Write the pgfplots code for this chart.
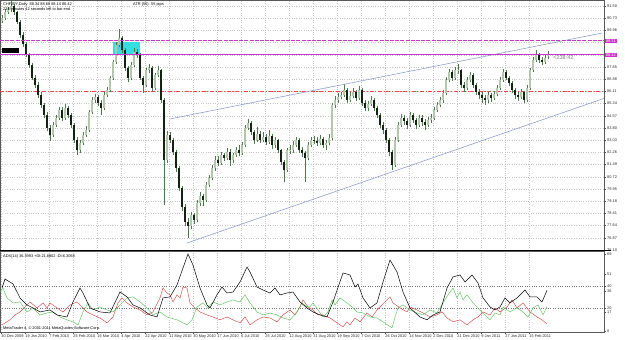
\documentclass[border=0pt]{standalone}
\usepackage{pgfplots}
\pgfplotsset{compat=1.18}
\usepackage{pgfplotstable}
\usepackage{fontspec}
\setmainfont{Liberation Sans}
\definecolor{wick}{HTML}{4F7A4F}
\definecolor{bull}{HTML}{B4C6AE}
\definecolor{bear}{HTML}{142214}
\definecolor{trend}{HTML}{8A98C8}
\definecolor{mag}{HTML}{CC33CC}
\definecolor{gridc}{HTML}{C4C4C4}
\definecolor{cyanbox}{HTML}{33DDE0}
\definecolor{levelred}{HTML}{F04848}
\definecolor{digreen}{HTML}{5CBF5C}
\definecolor{dired}{HTML}{CC4444}
\newcommand{\tf}{\fontsize{3.9}{4.5}\selectfont}

\pgfplotstableread{
o h l c
90.55 90.95 90.40 90.74
90.74 91.30 90.62 91.12
91.12 91.45 91.00 91.24
91.24 91.80 91.10 91.50
91.50 91.65 90.95 91.12
91.12 91.20 90.35 90.49
90.49 90.60 89.50 89.67
89.67 89.85 88.90 89.10
89.10 89.20 88.25 88.40
88.40 88.55 87.60 87.77
87.77 87.90 86.80 86.95
86.95 87.15 86.35 86.51
86.51 86.70 85.70 85.88
85.88 86.05 85.05 85.25
85.25 85.40 84.40 84.62
84.62 84.80 83.60 83.80
83.80 84.00 82.95 83.36
83.36 84.20 83.20 83.99
83.99 84.60 83.85 84.43
84.43 85.15 84.30 84.93
84.93 85.10 84.25 84.43
84.43 85.30 84.30 85.06
85.06 85.20 84.45 84.62
84.62 84.75 83.80 83.99
83.99 84.10 82.85 83.04
83.04 83.20 82.10 82.41
82.41 83.05 82.25 82.85
82.85 83.55 82.70 83.36
83.36 83.90 83.20 83.67
83.67 84.95 83.55 84.81
84.81 85.75 84.70 85.57
85.57 85.95 85.40 85.75
85.75 85.90 85.20 85.38
85.38 85.55 84.60 85.06
85.06 86.05 84.95 85.88
85.88 86.40 85.75 86.20
86.20 87.10 86.10 86.95
86.95 88.10 86.85 87.96
87.96 89.20 87.85 89.04
89.04 90.05 88.90 89.48
89.48 89.60 88.55 88.72
88.72 88.85 87.40 87.58
87.58 87.70 86.70 86.95
86.95 87.95 86.85 87.77
87.77 88.85 87.65 88.59
88.59 88.80 88.20 88.40
88.40 88.50 86.80 86.95
86.95 87.10 86.00 86.51
86.51 87.60 86.40 87.46
87.46 87.85 87.30 87.58
87.58 87.70 86.15 86.32
86.32 87.30 86.20 87.14
87.14 87.70 87.00 87.46
87.46 87.55 85.40 85.57
85.57 85.70 78.95 81.78
81.78 83.60 81.60 83.36
83.36 83.55 82.85 83.04
83.04 83.15 82.10 82.28
82.28 82.40 81.05 81.27
81.27 81.40 79.80 80.01
80.01 80.15 78.55 78.81
78.81 79.00 77.60 77.87
77.87 78.10 76.85 77.62
77.62 78.50 77.40 78.31
78.31 78.45 77.75 77.99
77.99 79.25 77.85 79.07
79.07 79.75 78.90 79.51
79.51 79.65 78.85 79.26
79.26 80.40 79.10 80.20
80.20 80.85 80.05 80.64
80.64 81.45 80.50 81.27
81.27 82.00 81.10 81.78
81.78 82.05 81.40 81.59
81.59 82.30 81.45 82.09
82.09 82.25 81.70 81.90
81.90 82.55 81.75 82.28
82.28 82.45 81.40 81.78
81.78 82.25 81.60 82.09
82.09 82.60 81.95 82.41
82.41 82.70 82.05 82.22
82.22 82.90 82.10 82.72
82.72 84.00 82.60 83.80
83.80 84.35 83.65 84.11
84.11 84.25 83.35 83.55
83.55 83.70 82.80 83.04
83.04 83.85 82.90 83.42
83.42 83.60 82.85 83.04
83.04 83.55 82.90 83.23
83.23 83.45 82.70 82.91
82.91 83.70 82.80 83.29
83.29 83.40 82.45 82.72
82.72 83.20 82.55 83.04
83.04 83.10 82.20 82.41
82.41 82.50 81.45 81.65
81.65 81.80 80.40 81.15
81.15 82.55 81.00 82.41
82.35 82.70 82.15 82.41
82.41 82.95 82.25 82.72
82.72 83.25 82.60 83.04
83.04 83.15 82.20 82.41
82.41 82.60 81.95 82.22
82.22 82.35 80.40 81.90
81.90 82.90 81.75 82.72
82.72 83.25 82.60 83.04
83.04 83.30 82.80 82.98
82.98 83.20 82.65 82.85
82.85 83.35 82.70 83.10
83.10 83.25 82.55 82.72
82.72 83.05 82.40 82.85
82.85 83.40 82.70 83.17
83.17 85.40 83.05 85.25
85.25 85.80 85.05 85.57
85.57 86.00 85.40 85.75
85.75 86.10 85.60 85.88
85.88 86.55 85.75 86.20
86.20 86.30 85.40 85.57
85.57 86.05 85.45 85.82
85.82 86.30 85.70 86.07
86.07 86.20 85.50 85.69
85.69 86.45 85.55 86.20
86.20 86.30 85.20 85.38
85.38 85.55 84.85 85.06
85.06 85.50 84.90 85.31
85.31 85.80 85.20 85.57
85.57 85.70 84.90 85.06
85.06 85.20 84.45 84.62
84.62 84.75 83.80 83.99
83.99 84.15 83.45 83.67
83.67 83.80 82.85 83.04
83.04 83.15 82.05 82.28
82.28 82.40 81.15 81.46
81.46 83.20 81.35 83.04
83.04 84.15 82.90 83.99
83.99 84.65 83.85 84.43
84.43 84.60 84.00 84.24
84.24 84.40 83.75 83.99
83.99 84.80 83.85 84.62
84.62 84.75 84.10 84.30
84.30 84.45 83.75 83.99
83.99 84.60 83.85 84.43
84.43 84.60 83.95 84.17
84.17 84.35 83.70 83.99
83.99 84.50 83.85 84.30
84.30 84.65 84.10 84.43
84.43 85.10 84.30 84.93
84.93 85.45 84.80 85.25
85.25 85.75 85.10 85.57
85.57 86.20 85.40 86.01
86.01 87.00 85.90 86.83
86.83 87.55 86.70 87.33
87.33 87.45 86.75 86.95
86.95 87.65 86.85 87.46
87.40 87.85 87.20 87.46
87.46 87.55 86.35 86.51
86.51 86.70 86.10 86.32
86.32 87.00 86.20 86.83
86.83 87.35 86.70 87.14
87.14 87.25 86.35 86.51
86.51 86.65 85.90 86.07
86.07 86.25 85.65 85.88
85.88 86.05 85.40 85.69
85.69 85.90 85.25 85.57
85.57 86.05 85.40 85.88
85.88 86.00 85.45 85.69
85.69 86.15 85.55 85.94
85.94 86.50 85.80 86.32
86.32 87.00 86.20 86.83
86.83 87.50 86.70 87.33
87.33 87.45 86.80 86.95
86.95 87.10 86.45 86.64
86.64 86.75 86.00 86.20
86.20 86.30 85.60 85.88
85.88 86.05 85.50 85.75
85.75 86.25 85.60 86.07
86.07 86.15 85.35 85.57
85.57 86.50 85.45 86.32
86.32 87.60 86.20 87.46
87.46 88.25 87.35 88.09
88.09 88.70 87.95 88.40
88.40 88.55 87.90 88.09
88.09 88.25 87.75 87.96
87.96 88.45 87.85 88.22
88.34 88.68 88.14 88.42
}\candles

\begin{document}
\begin{tikzpicture}
\useasboundingbox (0bp,0bp) rectangle (625bp,340bp);
% ---------------- main price window ----------------
\begin{axis}[at={(0bp,90bp)}, anchor=south west, scale only axis,
  width=604bp, height=250bp,
  xmin=0, xmax=604, ymin=76.10, ymax=91.875,
  xtick={1,25,...,529}, xticklabels={}, xtick style={draw=none},
  ytick={76.10,76.87,77.64,78.41,79.18,79.95,80.72,81.49,82.26,83.03,83.80,84.57,85.34,86.11,86.88,87.65,88.42,89.19,89.96,90.73,91.50},
  yticklabels={76.10,76.87,77.64,78.41,79.18,79.95,80.72,81.49,82.26,83.03,83.80,84.57,85.34,86.11,86.88,87.65,,,89.96,90.73,91.50},
  yticklabel pos=right, ytick pos=right, tick align=outside,
  major tick length=2bp, ytick style={black!70, line width=0.3bp},
  yticklabel style={font=\tf, text=black!85, inner sep=1bp},
  grid=major, major grid style={gridc, dotted, line width=0.35bp},
  axis line style={black!65, line width=0.4bp},
  clip=true]
\addplot[fill=cyanbox, draw=none] coordinates {(113,88.40) (140,88.40) (140,89.22) (113,89.22)} -- cycle;
\addplot[fill=black, draw=none] coordinates {(2,88.51) (19,88.51) (19,88.87) (2,88.87)} -- cycle;
\addplot[draw=levelred, color=levelred, line width=0.8bp, dash pattern=on 4bp off 1.6bp on 1.2bp off 1.6bp] coordinates {(0,86.09) (604,86.09)};
\addplot[draw=none, mark=none, error bars/.cd, y dir=plus, y explicit, error mark=none,
  error bar style={draw=wick, line width=0.45bp}]
  table[x expr=2+3*\coordindex, y=l, y error expr=\thisrow{h}-\thisrow{l}] {\candles};
\addplot[draw=none, mark=none, restrict expr to domain={\thisrow{c}-\thisrow{o}}{0.0001:100},
  error bars/.cd, y dir=plus, y explicit, error mark=none,
  error bar style={draw=bull, line width=1.6bp}]
  table[x expr=2+3*\coordindex, y=o, y error expr=\thisrow{c}-\thisrow{o}] {\candles};
\addplot[draw=none, mark=none, restrict expr to domain={\thisrow{o}-\thisrow{c}}{0.0001:100},
  error bars/.cd, y dir=plus, y explicit, error mark=none,
  error bar style={draw=bear, line width=1.6bp}]
  table[x expr=2+3*\coordindex, y=c, y error expr=\thisrow{o}-\thisrow{c}] {\candles};
\addplot[trend, line width=0.55bp] coordinates {(170,84.37) (602,89.79)};
\addplot[trend, line width=0.55bp] coordinates {(187,76.54) (605,85.69)};
\addplot[mag, line width=1.1bp, dash pattern=on 4bp off 1.2bp] coordinates {(0,89.31) (604,89.31)};
\addplot[mag, line width=1.1bp] coordinates {(0,88.42) (604,88.42)};
\end{axis}
% ---------------- ADX window ----------------
\begin{axis}[at={(0bp,8bp)}, anchor=south west, scale only axis,
  width=604bp, height=81bp,
  xmin=0, xmax=604, ymin=-1, ymax=71.7,
  xtick={1,25,...,529},
  xticklabels={30 Dec 2009, 19 Jan 2010, 7 Feb 2010, 25 Feb 2010, 16 Mar 2010, 4 Apr 2010, 22 Apr 2010, 11 May 2010, 30 May 2010, 17 Jun 2010, 6 Jul 2010, 25 Jul 2010, 12 Aug 2010, 31 Aug 2010, 19 Sep 2010, 7 Oct 2010, 26 Oct 2010, 14 Nov 2010, 2 Dec 2010, 21 Dec 2010, 9 Jan 2011, 27 Jan 2011, 15 Feb 2011},
  xticklabel style={font=\tf, anchor=north west, inner sep=0.8bp, xshift=-0.6bp, text=black!85},
  ytick={0,17,20,36,40,51,69},
  yticklabel pos=right, ytick pos=right, xtick pos=bottom, tick align=outside,
  major tick length=2bp, tick style={black!70, line width=0.3bp},
  /pgf/number format/assume math mode=true,
  yticklabel style={font=\tf, text=black!85, inner sep=1bp},
  xmajorgrids=true, major grid style={gridc, dotted, line width=0.35bp},
  extra y ticks={20,40}, extra y tick labels={},
  extra y tick style={ymajorgrids=true, major grid style={black!55, dotted, line width=0.4bp}},
  axis line style={black!65, line width=0.4bp},
  clip=true]
\addplot[dired, line width=0.45bp] coordinates {
(2,5.4) (10,9.9) (15,14.3) (20,17.0) (25,21.5) (30,26.0) (37,20.6) (43,25.1) (47,20.6) (50,25.1)
(57,20.6) (63,17.0) (70,23.3) (77,26.0) (82,21.5) (87,17.0) (93,14.3) (100,11.6) (107,7.2) (113,12.5)
(118,25.1) (122,29.6) (127,25.1) (133,21.5) (140,18.8) (147,14.3) (153,17.0) (160,29.6) (163,38.5) (167,34.0)
(170,32.3) (173,26.0) (177,32.3) (180,29.6) (183,39.4) (187,38.5) (190,25.1) (195,20.6) (200,17.0) (207,14.3)
(213,12.5) (220,9.9) (227,12.5) (233,9.9) (240,7.2) (245,12.5) (250,5.4) (257,9.9) (263,12.5) (270,11.6)
(277,8.1) (283,14.3) (290,18.8) (295,14.3) (300,21.5) (303,27.8) (308,21.5) (313,18.8) (318,14.3) (323,14.3)
(330,11.6) (337,7.2) (343,3.6) (347,8.1) (350,5.4) (355,11.6) (360,8.1) (367,16.1) (372,12.5) (377,18.8)
(382,23.3) (387,27.8) (390,30.5) (393,25.1) (400,20.6) (407,17.0) (410,21.5) (417,18.8) (423,16.1) (430,12.5)
(437,14.3) (442,17.0) (447,11.6) (453,8.1) (460,9.9) (467,5.4) (473,9.9) (478,12.5) (483,17.0) (490,14.3)
(495,20.6) (500,17.0) (507,21.5) (512,27.8) (517,20.6) (523,25.1) (530,17.0) (537,12.5) (542,9.9) (547,6.31)};
\addplot[digreen, line width=0.45bp] coordinates {
(0,34.9) (3,38.5) (7,29.6) (13,25.1) (20,26.0) (27,17.0) (33,20.6) (40,14.3) (47,16.1) (53,17.0)
(60,12.5) (67,9.9) (73,8.1) (78,5.4) (83,17.0) (88,25.1) (93,18.8) (100,21.5) (107,18.8) (113,17.0)
(120,23.3) (127,29.6) (133,30.5) (140,26.0) (147,20.6) (153,14.3) (160,17.0) (167,12.5) (177,9.9) (187,5.4)
(192,9.9) (197,21.5) (203,25.1) (208,20.6) (213,26.0) (220,23.3) (227,26.0) (233,27.8) (240,26.0) (245,32.3)
(250,25.1) (257,17.0) (263,14.3) (270,16.1) (277,14.3) (283,11.6) (290,9.9) (297,17.0) (302,25.1) (307,21.5)
(310,21.5) (313,25.1) (318,18.8) (323,12.5) (328,17.0) (332,27.8) (335,23.3) (340,29.6) (347,25.1) (352,21.5)
(357,17.0) (363,16.1) (370,12.5) (377,11.6) (383,8.1) (392,2.7) (395,12.5) (398,20.6) (403,23.3) (410,18.8)
(417,16.1) (423,14.3) (430,18.8) (437,16.1) (443,25.1) (448,32.3) (453,38.5) (457,29.6) (460,34.9) (463,27.8)
(467,32.3) (473,25.1) (478,20.6) (483,16.1) (490,9.9) (495,16.1) (500,14.3) (503,21.5) (510,17.0) (517,20.6)
(523,17.0) (528,12.5) (533,20.6) (538,23.3) (543,14.3) (547,21.88)};
\addplot[black, line width=0.5bp] coordinates {
(2,38.5) (5,46.6) (13,42.1) (20,29.6) (27,23.3) (33,20.6) (40,17.0) (50,18.8) (57,14.3) (67,12.5)
(73,26.0) (80,38.5) (83,34.0) (90,20.6) (100,17.0) (110,16.1) (120,34.9) (127,30.5) (133,23.3) (140,20.6)
(150,14.3) (157,12.5) (163,29.6) (170,30.5) (177,41.2) (183,56.5) (188,69.0) (193,59.1) (200,38.5) (207,23.3)
(210,20.6) (217,32.3) (222,39.4) (227,34.0) (233,34.9) (240,43.9) (247,57.3) (250,52.9) (257,39.4) (263,36.7)
(270,34.0) (275,38.5) (280,32.3) (287,34.0) (293,34.9) (300,26.0) (307,20.6) (313,17.0) (320,14.3) (327,12.5)
(333,26.0) (343,52.0) (350,50.2) (355,39.4) (358,42.1) (363,29.6) (370,20.6) (377,25.1) (383,43.9) (390,63.6)
(397,52.9) (403,34.9) (410,20.6) (420,12.5) (427,9.9) (433,14.3) (440,17.0) (447,38.5) (453,48.4) (460,50.2)
(465,43.9) (472,50.2) (478,43.0) (483,29.6) (490,21.5) (495,18.8) (500,21.5) (505,29.6) (510,25.1) (517,29.6)
(525,36.7) (530,30.5) (537,30.5) (542,26.0) (547,36.4)};
\end{axis}
\draw[black, line width=1.3bp] (0bp,89.5bp) -- (611bp,89.5bp);
\node[font=\tf, anchor=west, inner sep=0] at (3bp,336bp) {CHFJPY,Daily \ 88.34 88.68 88.14 88.42};
\node[font=\tf, anchor=west, inner sep=0] at (3bp,330.5bp) {238 minutes 42 seconds left to bar end};
\node[font=\tf, anchor=west, inner sep=0] at (133bp,336bp) {ATR (50): 55 pips};
\node[font=\fontsize{5.6}{6}\selectfont, anchor=west, inner sep=0, text=black!50] at (553bp,282.5bp) {<238:42};
\node[font=\tf, anchor=west, fill=mag, text=white, inner sep=0.8bp] at (605bp,299.3bp) {89.31};
\node[font=\tf, anchor=west, fill=mag, text=white, inner sep=0.8bp] at (605bp,285.3bp) {88.42};
\node[font=\tf, anchor=west, inner sep=0] at (3bp,84bp) {ADX(14) 36.3993 +DI:21.8802 -DI:6.3058};
\node[font=\tf, anchor=west, inner sep=0] at (3bp,11.5bp) {MetaTrader 4, \textcopyright{} 2001-2011 MetaQuotes Software Corp.};
\end{tikzpicture}
\end{document}
